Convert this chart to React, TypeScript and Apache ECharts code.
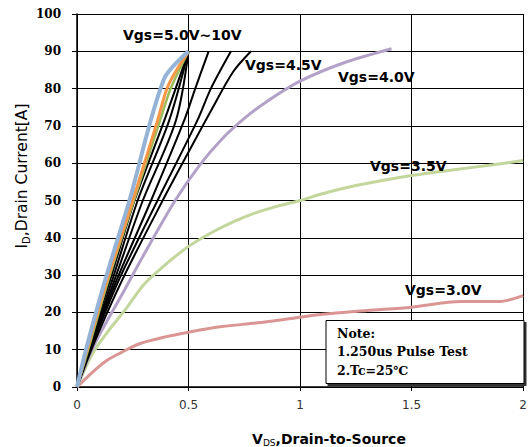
import React, { useEffect, useRef } from "react";
import * as echarts from "echarts";

// V_DS (V), I_D (A)
const vgs30: number[][] = [[0,0],[0.07,4],[0.13,7],[0.2,9.3],[0.28,11.6],[0.4,13.5],[0.5,14.7],[0.65,16.2],[0.81,17.2],[0.95,18.3],[1.1,19.5],[1.3,20.5],[1.5,21.4],[1.72,22.9],[1.89,22.9],[2.0,24.5]];
const vgs35: number[][] = [[0,0],[0.07,9],[0.14,15],[0.22,21],[0.3,27.5],[0.4,33],[0.5,37.7],[0.6,41.3],[0.7,44.3],[0.8,46.7],[0.9,48.5],[1.0,50],[1.1,51.8],[1.25,54],[1.5,56.7],[1.7,58.3],[1.865,59.6],[2.0,60.7]];
const vgs40: number[][] = [[0,0],[0.075,11],[0.213,26],[0.3,35.5],[0.44,50],[0.55,59.5],[0.65,66.5],[0.75,72],[0.85,76.5],[1.0,82],[1.2,87],[1.41,90.7]];
const vgs45: number[][] = [[0,0],[0.078,12],[0.205,29],[0.384,50],[0.5,63],[0.6,74],[0.7,84.5],[0.78,90]];
const vgsK5: number[][] = [[0,0],[0.073,12],[0.19,29],[0.361,50],[0.539,71.4],[0.6,80],[0.69,90]];
const vgsK4: number[][] = [[0,0],[0.07,12],[0.18,29],[0.332,50],[0.48,71.4],[0.53,80],[0.59,90]];
const vgsK3: number[][] = [[0,0],[0.067,12],[0.17,29],[0.295,50],[0.443,71.4],[0.5,90]];
const vgsK2: number[][] = [[0,0],[0.065,12],[0.16,29],[0.272,50],[0.413,71.4],[0.5,90]];
const vgsK1: number[][] = [[0,0],[0.06,12],[0.15,29],[0.258,50],[0.391,71.4],[0.5,90]];
const vgsG2: number[][] = [[0,0],[0.05,10],[0.14,28.6],[0.255,50],[0.372,71.4],[0.42,80],[0.5,90]];
const vgsOr: number[][] = [[0,0],[0.045,10],[0.135,28.6],[0.25,50],[0.361,71.4],[0.41,81],[0.5,90]];
const vgsBl: number[][] = [[0,0],[0.04,10],[0.126,28.6],[0.235,50],[0.39,82.6],[0.5,90]];

const yTicks = [0, 10, 20, 30, 40, 50, 60, 70, 80, 90, 100];
const xTicks = [0, 0.5, 1, 1.5, 2];

const curveLabels = [
  { text: "Vgs=5.0V~10V", x: 123, y: 35 },
  { text: "Vgs=4.5V", x: 245, y: 65 },
  { text: "Vgs=4.0V", x: 338, y: 77 },
  { text: "Vgs=3.5V", x: 370, y: 166 },
  { text: "Vgs=3.0V", x: 405, y: 290 },
];

const noteLines = ["Note:", "1.250us Pulse Test", "2.Tc=25\u2103"];

const seriesDefs = [
  { name: "3.0V", data: vgs30, color: "#D99694", width: 3 },
  { name: "3.5V", data: vgs35, color: "#C3D69B", width: 3 },
  { name: "4.0V", data: vgs40, color: "#B3A2C7", width: 3 },
  { name: "4.5V", data: vgs45, color: "#000000", width: 2 },
  { name: "k5", data: vgsK5, color: "#000000", width: 2 },
  { name: "k4", data: vgsK4, color: "#000000", width: 2 },
  { name: "k3", data: vgsK3, color: "#000000", width: 2 },
  { name: "k2", data: vgsK2, color: "#000000", width: 2 },
  { name: "k1", data: vgsK1, color: "#000000", width: 2 },
  { name: "g2", data: vgsG2, color: "#9BBB59", width: 2.5 },
  { name: "or", data: vgsOr, color: "#F79646", width: 3 },
  { name: "bl", data: vgsBl, color: "#95B3D7", width: 4 },
];

export default function App() {
  const ref = useRef<HTMLDivElement>(null);
  useEffect(() => {
    const chart = echarts.init(ref.current!, null, { renderer: "svg" });
    const graphics: any[] = [];
    curveLabels.forEach((l) => {
      graphics.push({
        type: "text",
        x: l.x,
        y: l.y,
        z: 50,
        style: {
          text: l.text,
          fontFamily: "DejaVu Sans",
          fontWeight: "bold",
          fontSize: 14,
          fill: "#000",
          align: "left",
          verticalAlign: "middle",
          textAlign: "left",
          textVerticalAlign: "middle",
        },
      });
    });
    // note box
    graphics.push({
      type: "rect",
      z: 60,
      shape: { x: 327.5, y: 322, width: 199, height: 64 },
      style: { fill: "#333" },
    });
    graphics.push({
      type: "rect",
      z: 61,
      shape: { x: 326, y: 320.5, width: 198, height: 63 },
      style: { fill: "#fff", stroke: "#000", lineWidth: 1 },
    });
    noteLines.forEach((t, i) => {
      graphics.push({
        type: "text",
        z: 62,
        x: 337,
        y: 333.5 + i * 18.3,
        style: {
          text: t,
          fontFamily: "DejaVu Serif",
          fontWeight: "bold",
          fontSize: 12.5,
          fill: "#000",
          align: "left",
          verticalAlign: "middle",
          textAlign: "left",
          textVerticalAlign: "middle",
        },
      });
    });
    // axis titles
    graphics.push({
      type: "text",
      z: 50,
      x: 329,
      y: 439,
      style: {
        text: "{a|V}{b|DS}{a|,Drain-to-Source}",
        align: "center",
        verticalAlign: "middle",
        textAlign: "center",
        textVerticalAlign: "middle",
        fill: "#000",
        rich: {
          a: { fontFamily: "DejaVu Sans", fontWeight: "bold", fontSize: 14, fill: "#000", lineHeight: 16 },
          b: { fontFamily: "DejaVu Sans", fontWeight: "normal", fontSize: 9, fill: "#000", lineHeight: 16, padding: [7, 0, 0, 0] },
        },
      },
    });
    graphics.push({
      type: "text",
      z: 50,
      x: 22,
      y: 176,
      rotation: Math.PI / 2,
      style: {
        text: "{a|I}{b|D}{a|,Drain Current[A]}",
        align: "center",
        verticalAlign: "middle",
        textAlign: "center",
        textVerticalAlign: "middle",
        fill: "#000",
        rich: {
          a: { fontFamily: "DejaVu Sans", fontSize: 15.5, fill: "#000", lineHeight: 18 },
          b: { fontFamily: "DejaVu Sans", fontSize: 10, fill: "#000", lineHeight: 18, padding: [9, 0, 0, 0] },
        },
      },
    });

    chart.setOption({
      animation: false,
      backgroundColor: "#fff",
      grid: { left: 77, right: 3, top: 14, bottom: 60, containLabel: false },
      xAxis: {
        type: "value",
        min: xTicks[0],
        max: xTicks[xTicks.length - 1],
        interval: 0.5,
        axisLine: { show: true, onZero: false, lineStyle: { color: "#000", width: 1.5 } },
        axisTick: { show: true, inside: false, length: 4, lineStyle: { color: "#000" } },
        splitLine: { show: true, lineStyle: { color: "#000", width: 1 } },
        axisLabel: {
          margin: 12,
          fontFamily: "DejaVu Sans",
          fontSize: 12,
          color: "#333",
          formatter: (v: number) => String(v),
        },
      },
      yAxis: {
        type: "value",
        min: yTicks[0],
        max: yTicks[yTicks.length - 1],
        interval: 10,
        axisLine: { show: true, onZero: false, lineStyle: { color: "#000", width: 1.5 } },
        axisTick: { show: true, inside: false, length: 5, lineStyle: { color: "#000" } },
        splitLine: { show: true, lineStyle: { color: "#000", width: 1 } },
        axisLabel: {
          margin: 16,
          fontFamily: "DejaVu Serif",
          fontWeight: "bold",
          fontSize: 12,
          color: "#000",
        },
      },
      series: seriesDefs.map((s, i) => ({
        type: "line",
        name: s.name,
        data: s.data,
        showSymbol: false,
        symbol: "none",
        smooth: 0.3,
        z: 2 + i,
        lineStyle: { color: s.color, width: s.width },
        itemStyle: { color: s.color },
      })),
      graphic: graphics,
    });
    return () => chart.dispose();
  }, []);
  return (
    <div
      ref={ref}
      style={{ position: "absolute", left: 0, top: 0, width: 530, height: 447 }}
    />
  );
}
